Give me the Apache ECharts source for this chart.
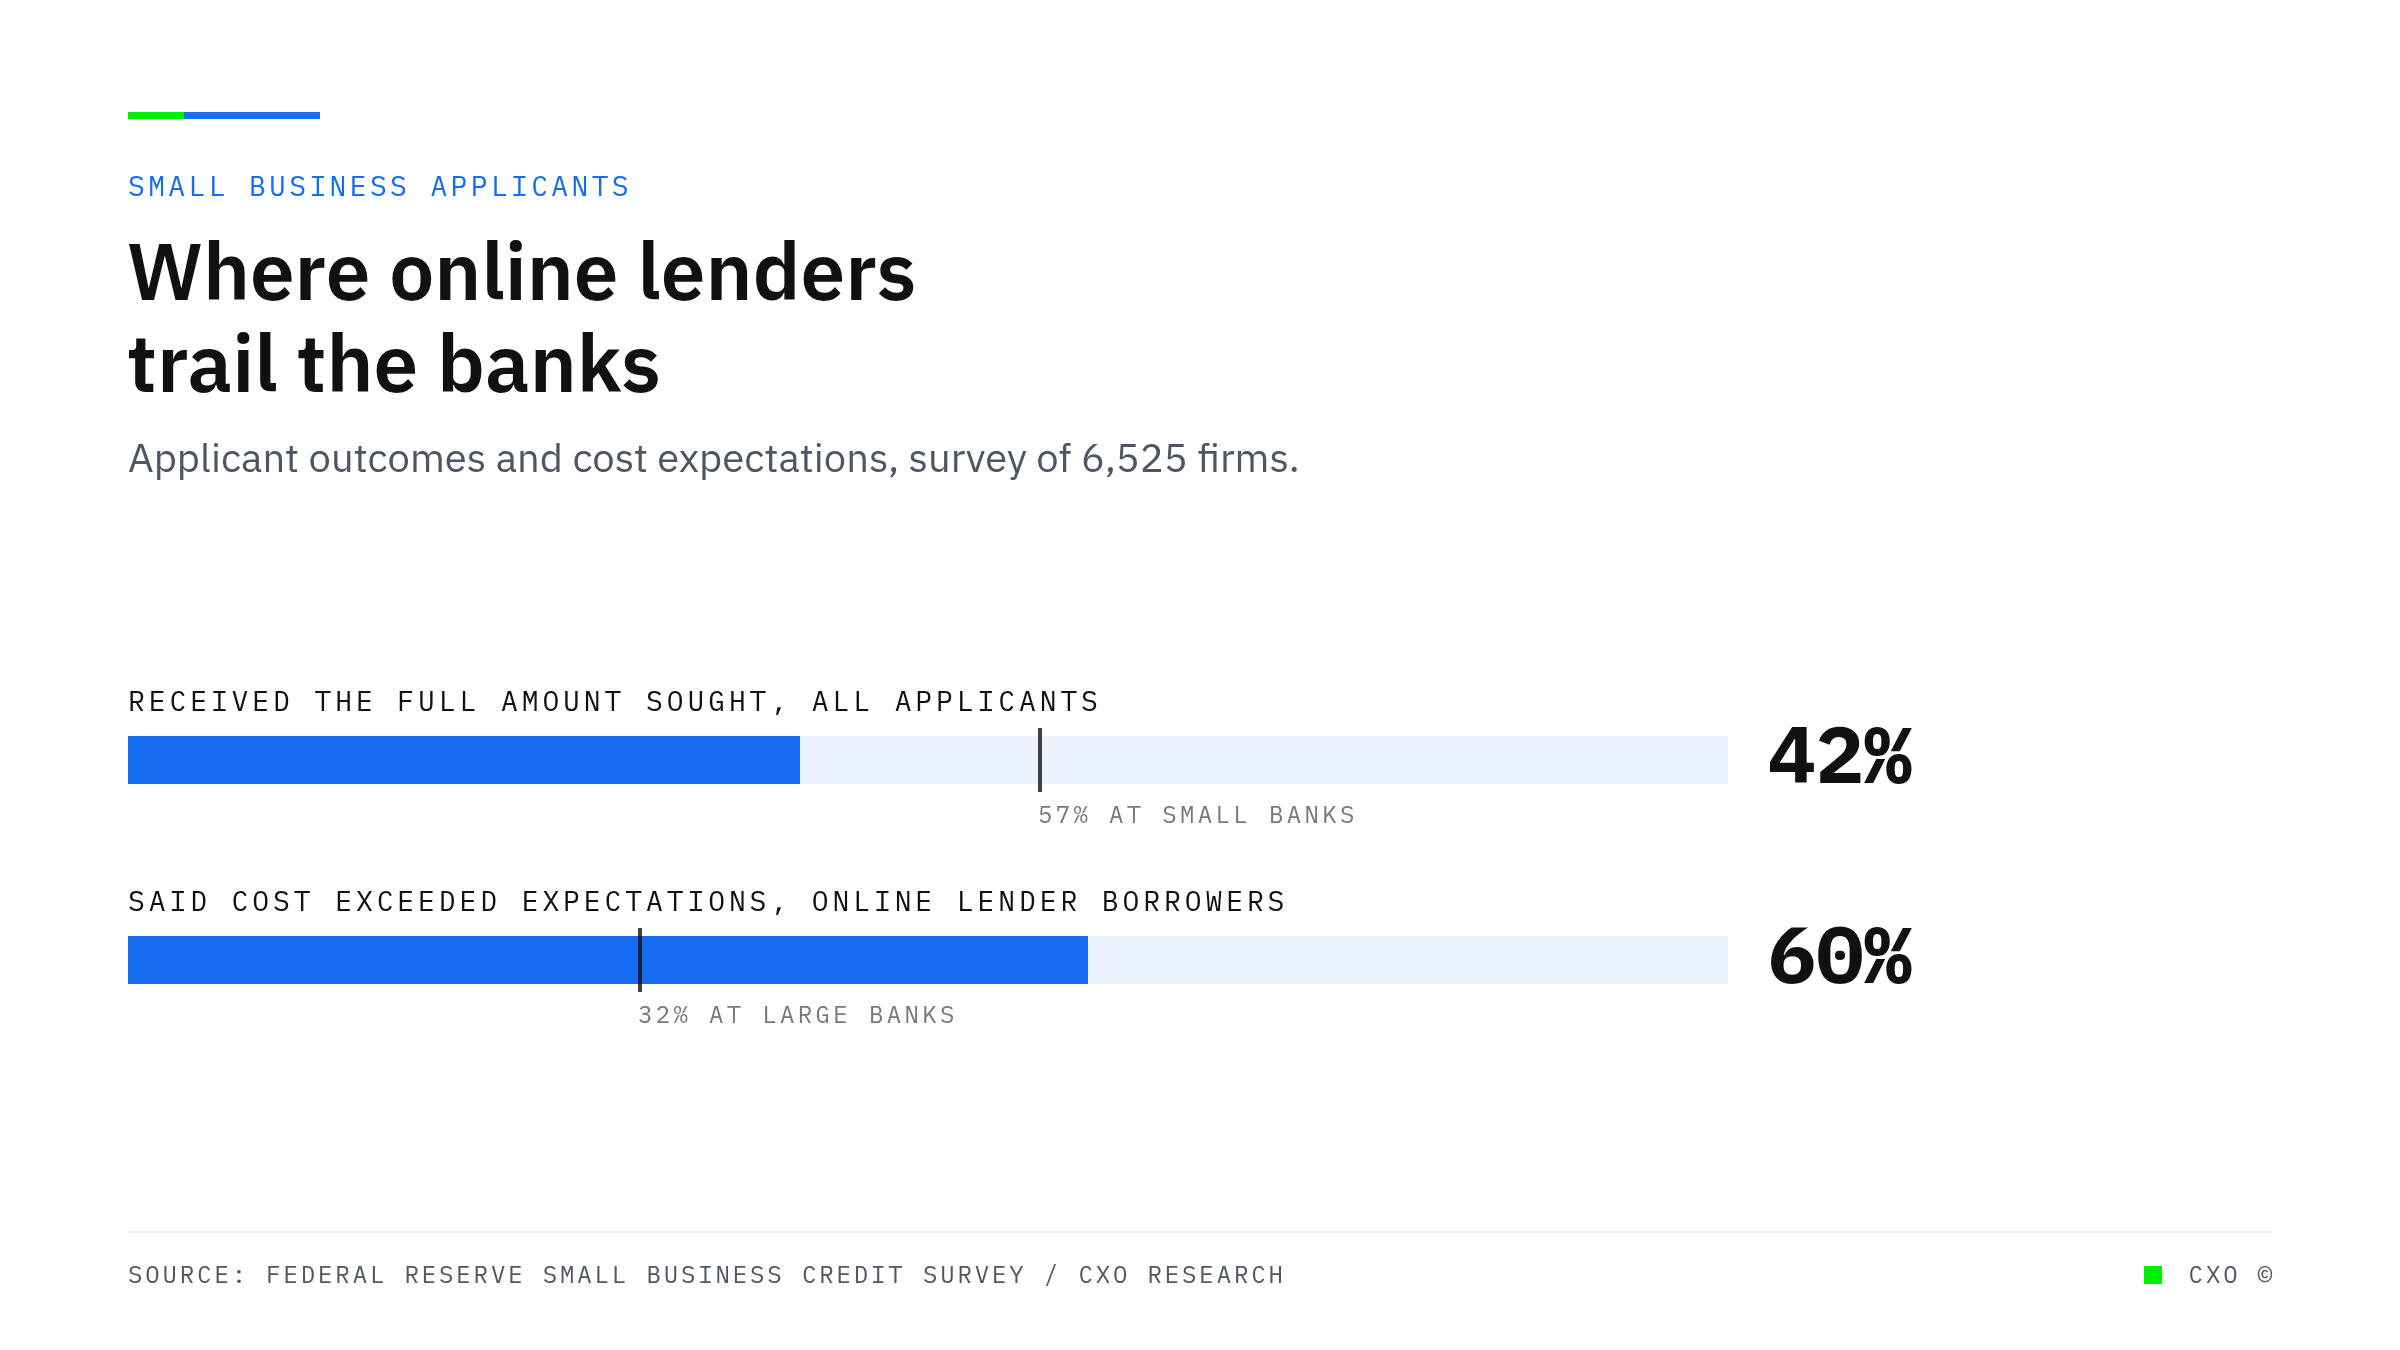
<!DOCTYPE html>
<html>
<head>
<meta charset="utf-8">
<style>
  html, body { margin: 0; padding: 0; background: #ffffff; }
  #chart { width: 2400px; height: 1350px; }
</style>
<script src="https://cdn.jsdelivr.net/npm/echarts@6/dist/echarts.min.js"></script>
</head>
<body>
<div id="chart"></div>
<script>
// ---- data ----
const categories = [
  'RECEIVED THE FULL AMOUNT SOUGHT, ALL APPLICANTS',
  'SAID COST EXCEEDED EXPECTATIONS, ONLINE LENDER BORROWERS'
];
const onlineValues = [42, 60];
const benchmarkValues = [57, 32];
const benchmarkNames = ['SMALL BANKS', 'LARGE BANKS'];
const scaleMax = 100;

const BLUE = '#176cf2';
const GREEN = '#00ee00';

// letter spacing for monospace text; amount given by a dummy family name "lsNN" (NN = hundredths of em)
(function () {
  const P = CanvasRenderingContext2D.prototype;
  const orig = P.fillText;
  P.fillText = function (t, x, y, w) {
    const f = this.font || '';
    let ls = 0;
    const s = /ls(\d+)/.exec(f);
    if (s) {
      const m = /(\d+(?:\.\d+)?)px/.exec(f);
      const size = m ? parseFloat(m[1]) : 16;
      ls = size * parseInt(s[1], 10) / 100;
    }
    try { this.letterSpacing = ls.toFixed(2) + 'px'; } catch (e) {}
    return w === undefined ? orig.call(this, t, x, y) : orig.call(this, t, x, y, w);
  };
})();

const mono = n => "ls" + n + ", 'IBM Plex Mono', 'DejaVu Sans Mono', monospace";
const SANS = "'IBM Plex Sans', Roboto, 'Noto Sans', sans-serif";
const GRAY = '#505662';

const chart = echarts.init(document.getElementById('chart'), null, { renderer: 'canvas' });

const option = {
  animation: false,
  backgroundColor: '#ffffff',
  grid: { left: 128, right: 672, top: 660, height: 400, containLabel: false },
  xAxis: { type: 'value', min: 0, max: scaleMax, show: false },
  yAxis: { type: 'category', data: categories, inverse: true, show: false },
  graphic: [
    { type: 'rect', shape: { x: 128, y: 112, width: 56, height: 7 }, style: { fill: GREEN } },
    { type: 'rect', shape: { x: 184, y: 112, width: 136, height: 7 }, style: { fill: BLUE } },
    { type: 'text', style: { x: 128, y: 188, text: 'SMALL BUSINESS APPLICANTS', fill: BLUE,
        font: '28px ' + mono(12), verticalAlign: 'middle' } },
    { type: 'text', style: { x: 127, y: 277, text: 'Where online lenders', fill: '#111111',
        font: '600 80px ' + SANS, verticalAlign: 'middle' } },
    { type: 'text', style: { x: 127, y: 369, text: 'trail the banks', fill: '#111111',
        font: '600 80px ' + SANS, verticalAlign: 'middle' } },
    { type: 'text', style: { x: 128, y: 460, text: 'Applicant outcomes and cost expectations, survey of 6,525 firms.',
        fill: '#4f5663', font: '40px ' + SANS, verticalAlign: 'middle' } },
    { type: 'rect', shape: { x: 128, y: 1231, width: 2144, height: 2 }, style: { fill: '#eeeeee' } },
    { type: 'text', style: { x: 128, y: 1276, text: 'SOURCE: FEDERAL RESERVE SMALL BUSINESS CREDIT SURVEY / CXO RESEARCH',
        fill: GRAY, font: '24px ' + mono(12), verticalAlign: 'middle' } },
    { type: 'rect', shape: { x: 2144, y: 1266, width: 18, height: 18 }, style: { fill: GREEN } },
    { type: 'text', style: { x: 2275, y: 1276, text: 'CXO ©', align: 'right',
        fill: GRAY, font: '24px ' + mono(12), verticalAlign: 'middle' } }
  ],
  series: [
    {
      type: 'bar',
      name: 'scale',
      data: categories.map(() => scaleMax),
      barWidth: 48,
      itemStyle: { color: '#ebf2fd' },
      silent: true,
      label: {
        show: true,
        position: 'right',
        distance: 40,
        offset: [0, 0],
        formatter: p => onlineValues[p.dataIndex] + '%',
        fontFamily: mono(0),
        fontWeight: 'bold',
        fontSize: 80,
        color: '#111111'
      }
    },
    {
      type: 'bar',
      name: 'Online lenders',
      data: onlineValues,
      barWidth: 48,
      barGap: '-100%',
      itemStyle: { color: BLUE },
      label: {
        show: true,
        position: [0, -33],
        align: 'left',
        verticalAlign: 'middle',
        formatter: '{b}',
        fontFamily: mono(14),
        fontSize: 28,
        color: '#111111'
      }
    },
    {
      type: 'scatter',
      name: 'Banks',
      data: benchmarkValues.map((v, i) => [v, i]),
      symbol: 'rect',
      symbolSize: [4, 64],
      itemStyle: { color: '#111111' },
      z: 5,
      label: {
        show: true,
        position: [0, 88],
        align: 'left',
        verticalAlign: 'middle',
        formatter: p => benchmarkValues[p.dataIndex] + '% AT ' + benchmarkNames[p.dataIndex],
        fontFamily: mono(14),
        fontSize: 24,
        color: GRAY
      }
    }
  ]
};
chart.setOption(option);
</script>
</body>
</html>
